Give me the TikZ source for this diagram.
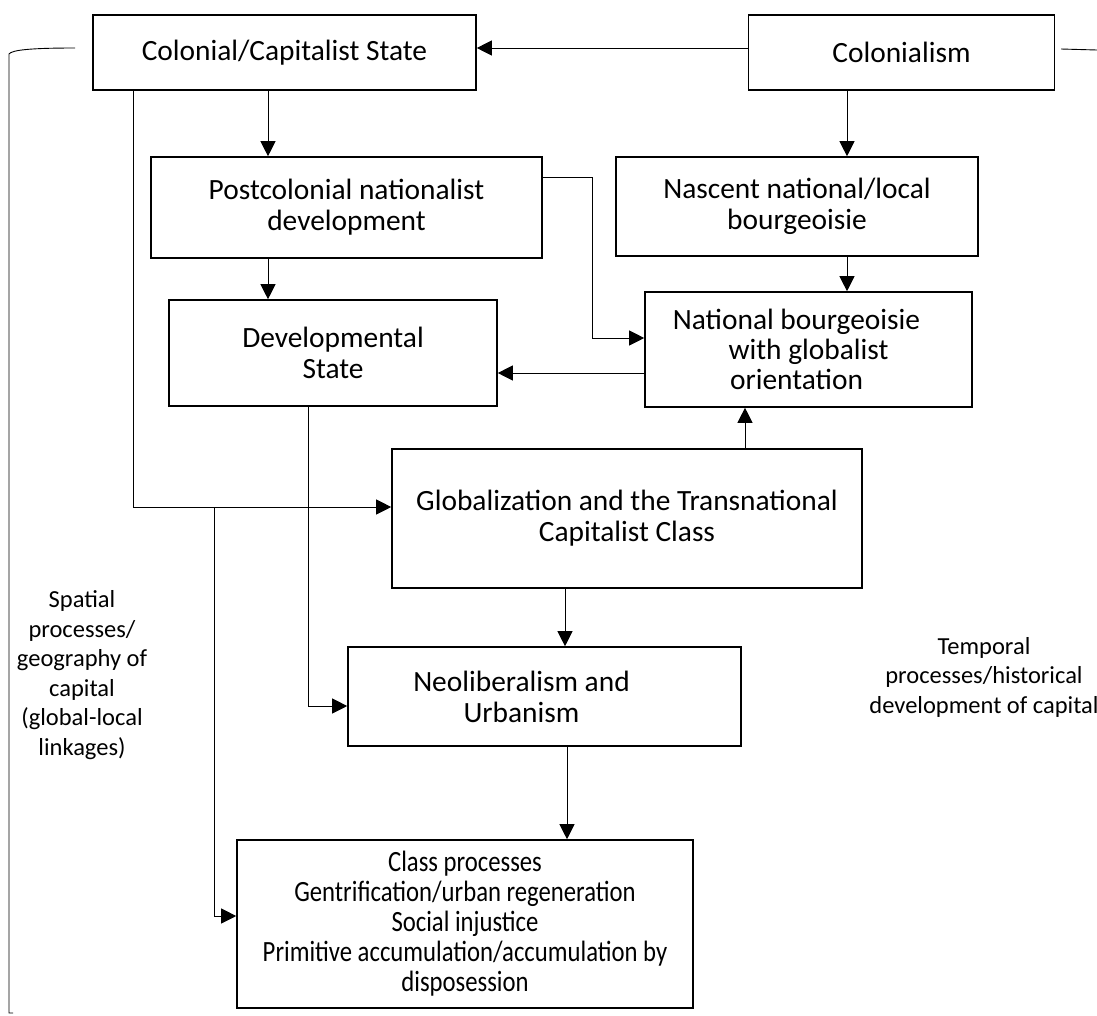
\documentclass[tikz,border=0pt]{standalone}
\usepackage{fontspec}
\setmainfont{Carlito}
\newfontfamily\condensed{Carlito}[FakeStretch=0.84]
\usetikzlibrary{arrows.meta}
\begin{document}
\begin{tikzpicture}[x=1pt, y=-1pt,
        font=\fontsize{29.4}{31}\selectfont,
        box/.style={rectangle, draw=black, line width=1.6pt, align=center, inner sep=0pt},
        arr/.style={line width=0.8pt, -{Triangle[length=15pt, width=15pt]}},
        side/.style={align=center, inner sep=0pt, font=\fontsize{24.5}{29.5}\selectfont}]
        \useasboundingbox (0,0) rectangle (1097,1015);

        % Top row
        \node[box, minimum width=383, minimum height=75] (colstate) at (284.5,52.5) {Colonial/Capitalist State};
        \node[box, minimum width=306, minimum height=75] (colonialism) at (901.5,52.5) {Colonialism};

        % Second row
        \node[box, minimum width=391, minimum height=101] (postcol) at (346.5,207.5) {Postcolonial nationalist\\development};
        \node[box, minimum width=362, minimum height=99] (nascent) at (797,206.5) {Nascent national/local\\bourgeoisie};

        % Third row
        \node[box, minimum width=328, minimum height=106] (devstate) at (333,353) {Developmental\\State};
        \node[box, minimum width=327, minimum height=115, font=\fontsize{29.4}{30}\selectfont] (natbourg) at (808.5,349.5)
            {National bourgeoisie\hspace*{24pt}\\with globalist\hspace*{24pt}\\orientation\hspace*{24pt}};

        % Globalization
        \node[box, minimum width=470, minimum height=139] (glob) at (627,518.5) {Globalization and the Transnational\\Capitalist Class};

        % Neoliberalism
        \node[box, minimum width=393, minimum height=99] (neolib) at (544.5,696.5) {Neoliberalism and\hspace*{46pt}\\Urbanism\hspace*{46pt}};

        % Class processes
        \node[box, minimum width=456, minimum height=168, font=\condensed\fontsize{29.4}{30}\selectfont] (class) at (465,924)
            {Class processes\\Gentrification/urban regeneration\\Social injustice\\Primitive accumulation/accumulation by\\disposession};

        % Side labels
        \node[side] (spatial) at (82,675) {Spatial\\processes/\\geography of\\capital\\(global-local\\linkages)};
        \node[side] (temporal) at (984,677) {Temporal\\processes/historical\\development of capital};

        % Brackets
        \draw[line width=0.9pt] (75,48) .. controls (30,48) and (12,50) .. (9,54) -- (9,1013) -- (13,1013);
        \draw[line width=0.9pt] (1061,49) -- (1097,50);

        % Draw arrows
        \draw[arr] ([yshift=4.5pt]colonialism.west) -- ([yshift=4.5pt]colstate.east);
        \draw[arr] ([xshift=-16.5pt]colstate.south) -- ([xshift=-16.5pt]colstate.south |- postcol.north);
        \draw[arr] ([xshift=-78.5pt]postcol.south) -- ([xshift=-78.5pt]postcol.south |- devstate.north);
        \draw[arr] ([xshift=-54.5pt]colonialism.south) -- ([xshift=-54.5pt]colonialism.south |- nascent.north);
        \draw[arr] ([xshift=50pt]nascent.south) -- ([xshift=50pt]nascent.south |- natbourg.north);
        \draw[arr] ([yshift=30.5pt]postcol.east) -- ++(50,0) |- ([yshift=11.5pt]natbourg.west);
        \draw[arr] ([yshift=-23.5pt]natbourg.west) -- ([yshift=-23.5pt]natbourg.west -| devstate.east);
        \draw[arr] ([xshift=118pt]glob.north) -- ([xshift=118pt]glob.north |- natbourg.south);
        \draw[arr] ([xshift=-151.5pt]colstate.south) |- ([yshift=11.5pt]glob.west);
        \coordinate (branch) at (214,507);
        \draw[arr] (branch) |- ([yshift=8pt]class.west);
        \draw[arr] ([xshift=-25pt]devstate.south) |- ([yshift=-9.5pt]neolib.west);
        \draw[arr] ([xshift=-62pt]glob.south) -- ([xshift=-62pt]glob.south |- neolib.north);
        \draw[arr] ([xshift=22.5pt]neolib.south) -- ([xshift=22.5pt]neolib.south |- class.north);

    \end{tikzpicture}
\end{document}
